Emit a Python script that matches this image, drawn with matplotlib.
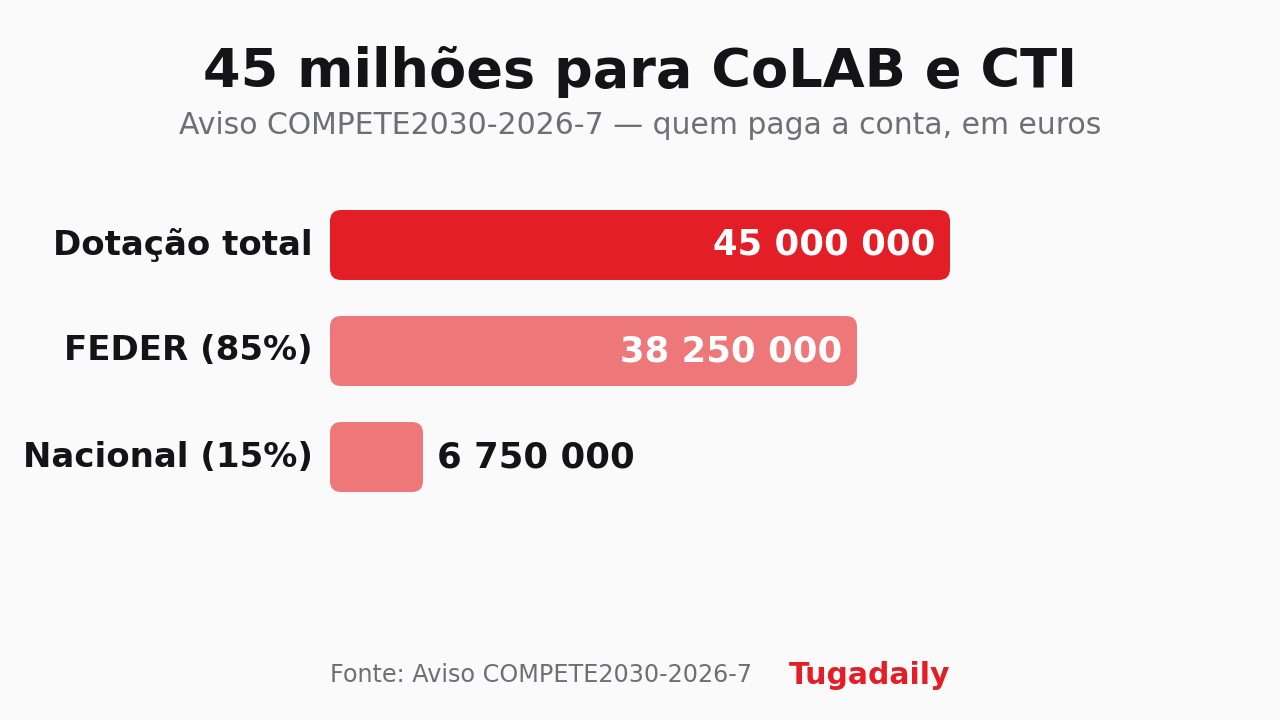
import matplotlib.pyplot as plt
from matplotlib.patches import FancyBboxPatch

categorias = ["Dotação total", "FEDER (85%)", "Nacional (15%)"]
valores = [45000000, 38250000, 6750000]
cores = ["#E41E26", "#EE777A", "#EE777A"]
rotulos = ["45 000 000", "38 250 000", "6 750 000"]

fundo = "#FAFAFA"
escuro = "#141418"
cinza = "#6E6E78"

fig = plt.figure(figsize=(12.8, 7.2), dpi=100, facecolor=fundo)

# eixo alinhado com as barras (330..950 px, 210..492 px)
ax = fig.add_axes([330 / 1280, (720 - 492) / 720, 620 / 1280, 282 / 720])
ax.set_facecolor(fundo)
ax.set_xlim(0, 45000000)
ax.set_ylim(2.33, -0.33)
ax.axis("off")

altura = 0.66
fig.canvas.draw()
# unidades por pixel em cada eixo, para cantos redondos certos
x0, y0 = ax.transData.inverted().transform((0, 0))
x1, y1 = ax.transData.inverted().transform((11, 11))
rx = abs(x1 - x0)
ry = abs(y1 - y0)
px = 45000000 / 620

for i, (cat, v, cor, rot) in enumerate(zip(categorias, valores, cores, rotulos)):
    barra = FancyBboxPatch(
        (0, i - altura / 2), v, altura,
        boxstyle=f"round,pad=0,rounding_size={rx}",
        mutation_aspect=ry / rx,
        fc=cor, ec="none",
    )
    ax.add_patch(barra)
    ax.text(-17 * px, i, cat, ha="right", va="center",
            fontsize=24.5, fontweight="bold", color=escuro)
    if v > 20000000:
        ax.text(v - 15 * px, i, rot, ha="right", va="center",
                fontsize=25.5, fontweight="bold", color="white")
    else:
        ax.text(v + 14 * px, i, rot, ha="left", va="center",
                fontsize=25.5, fontweight="bold", color=escuro)

fig.text(0.5, 1 - 72 / 720, "45 milhões para CoLAB e CTI", ha="center", va="center",
         fontsize=39, fontweight="bold", color=escuro)
fig.text(0.5, 1 - 126 / 720, "Aviso COMPETE2030-2026-7 — quem paga a conta, em euros",
         ha="center", va="center", fontsize=21.5, color=cinza)

fig.text(330 / 1280, 1 - 675 / 720, "Fonte: Aviso COMPETE2030-2026-7", ha="left", va="center",
         fontsize=17.2, color=cinza)
fig.text(950 / 1280, 1 - 675 / 720, "Tugadaily", ha="right", va="center",
         fontsize=21.5, fontweight="bold", color="#E41E26")

fig.savefig("out.png", dpi=100, facecolor=fundo)
